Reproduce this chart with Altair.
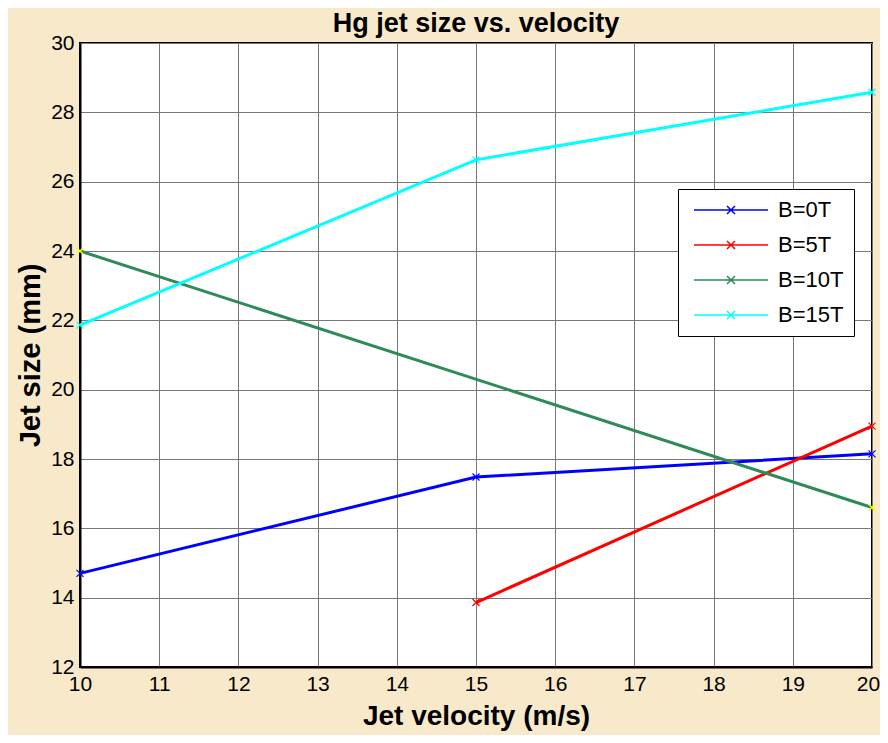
import altair as alt
import pandas as pd

series = ["B=0T", "B=5T", "B=10T", "B=15T"]
line_colors = ["#0000FF", "#FF0000", "#2E8B57", "#00FFFF"]
marker_colors = ["#0000FF", "#FF0000", "#FFFF00", "#00FFFF"]

b0_x = [10, 15, 20]
b0_y = [14.7, 17.48, 18.15]
b5_x = [15, 20]
b5_y = [13.86, 18.95]
b10_x = [10, 20]
b10_y = [24.0, 16.6]
b15_x = [10, 15, 20]
b15_y = [21.86, 26.63, 28.58]

rows = []
for name, xs, ys in [("B=0T", b0_x, b0_y), ("B=5T", b5_x, b5_y),
                     ("B=10T", b10_x, b10_y), ("B=15T", b15_x, b15_y)]:
    for i, (xv, yv) in enumerate(zip(xs, ys)):
        rows.append({"series": name, "v": xv, "size": yv, "order": i})
df = pd.DataFrame(rows)

FONT = "Liberation Sans"
xpath = "M-1,-1L1,1M-1,1L1,-1"
# legend symbol: unit = 10px (symbolSize 400)
legend_sym = "M-0.5,0L6.9,0M2.8,-0.4L3.6,0.4M2.8,0.4L3.6,-0.4"

x_enc = alt.X("v:Q", scale=alt.Scale(domain=[10, 20], nice=False, zero=False),
              axis=alt.Axis(values=list(range(10, 21)), format="d", labelFlush=False,
                            labelOffset={"condition": {"test": "datum.value == 20", "value": -4}, "value": 0},
                            title="Jet velocity (m/s)", titlePadding=8, titleFontSize=28))
y_enc = alt.Y("size:Q", scale=alt.Scale(domain=[12, 30], nice=False, zero=False),
              axis=alt.Axis(values=list(range(12, 31, 2)), format="d", labelFlush=False,
                            title="Jet size (mm)", titlePadding=5, titleFontSize=29))

lines = alt.Chart(df).mark_line(strokeWidth=3).encode(
    x=x_enc, y=y_enc,
    order="order:Q",
    color=alt.Color("series:N", scale=alt.Scale(domain=series, range=line_colors),
                    legend=alt.Legend(
                        title=None, orient="none", legendX=598, legendY=146,
                        fillColor="white", strokeColor="black", padding=10,
                        symbolType=legend_sym, symbolSize=400, symbolStrokeWidth=1.5,
                        labelFont=FONT, labelFontSize=22, labelColor="black",
                        labelOffset=68, rowPadding=13, symbolOffset=0,
                        offset=0)),
)

points = alt.Chart(df).mark_point(shape=xpath, size=49, filled=False, strokeWidth=1.2, opacity=1).encode(
    x=alt.X("v:Q"), y=alt.Y("size:Q"),
    color=alt.Color("series:N", scale=alt.Scale(domain=series, range=marker_colors), legend=None),
)

chart = alt.layer(lines, points).resolve_scale(color="independent").properties(
    width=792, height=624,
    title=alt.TitleParams("Hg jet size vs. velocity", font=FONT, fontSize=27,
                          fontWeight="bold", color="black", offset=-6),
    autosize=alt.AutoSizeParams(type="none"),
    padding={"left": 72, "top": 35, "right": 8, "bottom": 68},
    background="#F7E9C9",
).configure_view(
    fill="white", stroke="black", strokeWidth=2
).configure_axis(
    labelFont=FONT, labelFontSize=21, labelColor="black",
    titleFont=FONT, titleFontWeight="bold", titleColor="black",
    gridColor="#777777", gridWidth=1, gridOpacity=1,
    domainColor="black", domainWidth=2,
    tickSize=0, labelPadding=6,
)

chart.save("out.html", embed_options={"renderer": "svg", "actions": False})
